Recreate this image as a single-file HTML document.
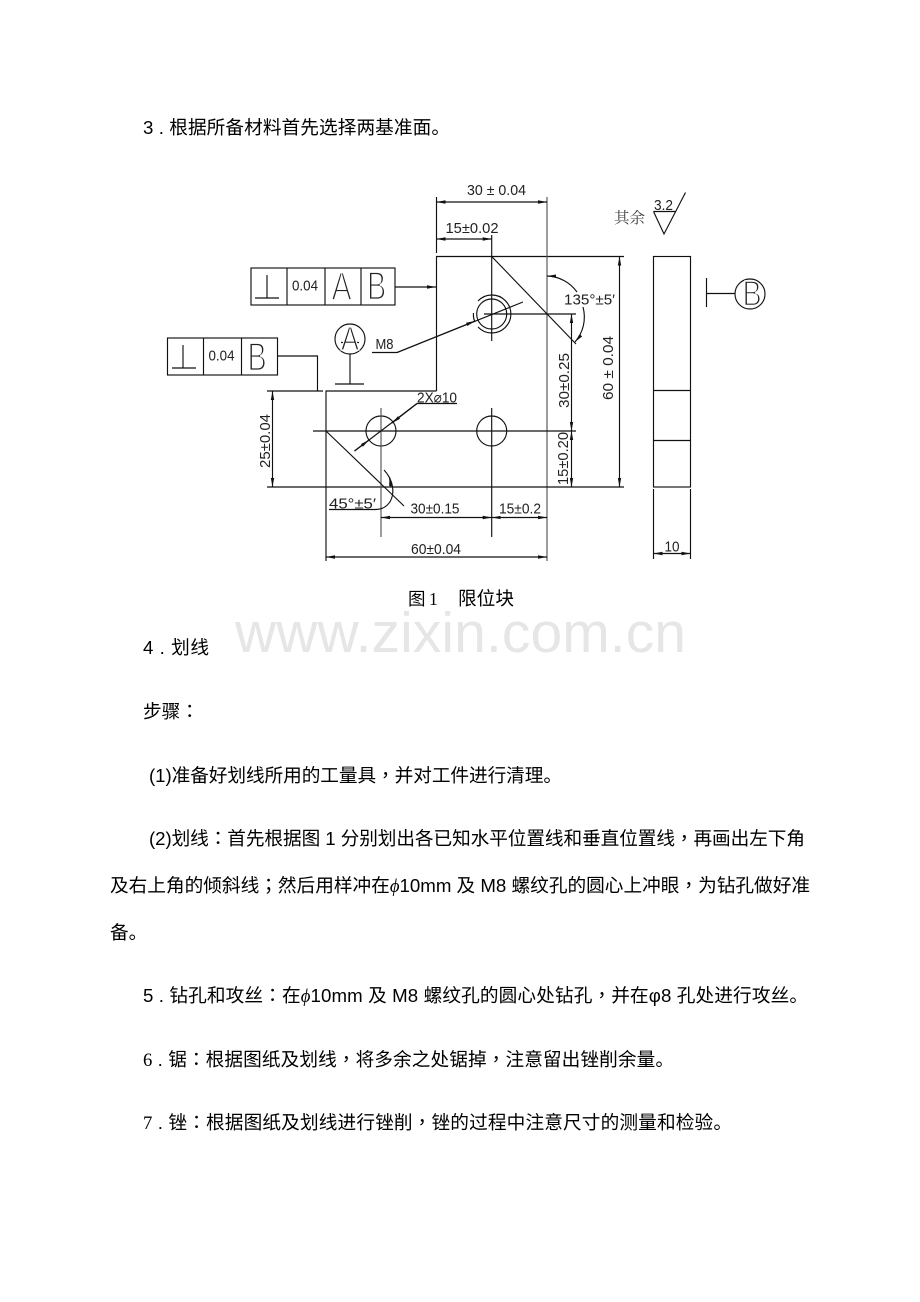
<!DOCTYPE html>
<html lang="zh-CN"><head><meta charset="utf-8">
<style>
html,body{margin:0;padding:0;background:#fff;width:920px;height:1302px;overflow:hidden}
svg{display:block}
.b{font-family:"Liberation Sans","Noto Sans CJK SC",sans-serif;font-size:18.67px;fill:#000}
.s{font-family:"Liberation Serif","Noto Sans CJK SC",serif}
.p{font-family:"Noto Sans CJK TC",sans-serif;font-feature-settings:"locl" 0}
.c{font-family:"Liberation Sans","DejaVu Sans",sans-serif;font-size:15px;fill:#222}
.g{font-family:"Liberation Sans",sans-serif;fill:#222;stroke:#fff;stroke-width:1.8;paint-order:fill}
.l line,.l path,.l rect,.l circle{stroke:#111;stroke-width:1.15;fill:none}
.l .y{stroke:#555}
</style></head><body>
<svg width="920" height="1302" viewBox="0 0 920 1302" xmlns="http://www.w3.org/2000/svg">
<defs>
<marker id="a" markerUnits="userSpaceOnUse" markerWidth="10" markerHeight="6" refX="9" refY="3" orient="auto-start-reverse"><path d="M0 1.300L9 3L0 4.700Z" fill="#111"/></marker>
</defs>
<text x="235" y="652" font-family="Liberation Sans,sans-serif" font-size="57" fill="#e6e6e6" textLength="451">www.zixin.com.cn</text>

<g class="l">
<!-- FCF 1 -->
<rect x="251" y="268" width="144" height="37"/>
<line x1="287" y1="268" x2="287" y2="305"/><line x1="325" y1="268" x2="325" y2="305"/><line x1="361" y1="268" x2="361" y2="305"/>
<line x1="267" y1="275" x2="267" y2="298"/><line x1="255" y1="298" x2="279" y2="298"/>
<line x1="395" y1="287" x2="436" y2="287" marker-end="url(#a)"/>
<!-- FCF 2 -->
<rect x="167.500" y="338" width="110" height="37"/>
<line x1="203.500" y1="338" x2="203.500" y2="375"/><line x1="241.500" y1="338" x2="241.500" y2="375"/>
<line x1="183" y1="345" x2="183" y2="368"/><line x1="172" y1="368" x2="196" y2="368"/>
<path d="M278 356H317.500V391"/>
<!-- datum A -->
<circle cx="350" cy="339" r="15"/>
<line x1="350" y1="354" x2="350" y2="384"/><line x1="335" y1="384" x2="364" y2="384"/>
<line x1="341" y1="342.500" x2="359" y2="342.500"/>
<!-- M8 leader -->
<path d="M372 352.500H397L523 302"/>
<line x1="397" y1="352.500" x2="475" y2="321" marker-end="url(#a)"/>
<!-- outline -->
<line x1="267" y1="391" x2="323" y2="391"/>
<line x1="325.500" y1="391" x2="436.500" y2="391"/>
<line x1="436.500" y1="197" x2="436.500" y2="253"/>
<line x1="436.500" y1="256.500" x2="436.500" y2="391"/>
<line x1="436" y1="256.500" x2="624" y2="256.500"/>
<line x1="326" y1="391" x2="326" y2="561"/>
<line x1="547" y1="197" x2="547" y2="561" class="y"/>
<line x1="267" y1="487" x2="624" y2="487"/>
<!-- top dims -->
<line x1="436.500" y1="202" x2="547" y2="202" marker-start="url(#a)" marker-end="url(#a)"/>
<line x1="436.500" y1="239" x2="491.700" y2="239" marker-start="url(#a)" marker-end="url(#a)"/>
<!-- M8 hole -->
<line x1="491.700" y1="235" x2="491.700" y2="341"/>
<line x1="484" y1="314" x2="576" y2="314"/>
<circle cx="491.700" cy="314" r="15"/>
<path d="M478 301A19 19 0 1 1 478 327M473.500 313Q473 318 475 322"/>
<line x1="491.700" y1="256.500" x2="576" y2="344"/>
<!-- angle 135 -->
<path d="M547 276A38 38 0 0 1 577 292" marker-start="url(#a)"/>
<path d="M583 307A38 38 0 0 1 575 342" marker-end="url(#a)"/>
<!-- right dims -->
<line x1="571.500" y1="314" x2="571.500" y2="431" marker-start="url(#a)" marker-end="url(#a)"/>
<line x1="571.500" y1="431" x2="571.500" y2="487" marker-start="url(#a)" marker-end="url(#a)"/>
<line x1="619.500" y1="256.500" x2="619.500" y2="487" marker-start="url(#a)" marker-end="url(#a)"/>
<!-- lower holes -->
<line x1="313" y1="431" x2="576" y2="431"/>
<circle cx="381" cy="431" r="15"/><circle cx="491.700" cy="431" r="15"/>
<line x1="381" y1="408" x2="381" y2="537" class="y"/>
<line x1="491.700" y1="408" x2="491.700" y2="537"/>
<line x1="326" y1="431" x2="404" y2="506"/>
<path d="M417 403.500H457M417 403.500L354.500 451"/>
<line x1="417" y1="403.500" x2="392" y2="423" marker-end="url(#a)"/>
<line x1="354.500" y1="451" x2="369" y2="440" marker-end="url(#a)"/>
<!-- 45 -->
<path d="M329 509.500H376C394 509 399 486 384 470"/>
<path d="M391 487L389.500 477" marker-end="url(#a)"/>
<!-- left dim -->
<line x1="272.500" y1="391" x2="272.500" y2="487" marker-start="url(#a)" marker-end="url(#a)"/>
<!-- bottom dims -->
<line x1="381" y1="517.500" x2="491.700" y2="517.500" marker-start="url(#a)" marker-end="url(#a)"/>
<line x1="491.700" y1="517.500" x2="547" y2="517.500" marker-start="url(#a)" marker-end="url(#a)"/>
<line x1="326" y1="557" x2="547" y2="557" marker-start="url(#a)" marker-end="url(#a)"/>
<!-- side view -->
<rect x="653.500" y="256.500" width="37" height="230.500"/>
<line x1="653.500" y1="390.500" x2="690.500" y2="390.500"/>
<line x1="653.500" y1="440.500" x2="690.500" y2="440.500"/>
<line x1="653.500" y1="489" x2="653.500" y2="559"/><line x1="690.500" y1="489" x2="690.500" y2="559"/>
<line x1="653.500" y1="553.500" x2="690.500" y2="553.500" marker-start="url(#a)" marker-end="url(#a)"/>
<!-- datum B -->
<line x1="706.500" y1="278" x2="706.500" y2="307"/>
<line x1="706.500" y1="293.500" x2="735" y2="293.500"/>
<circle cx="750" cy="294" r="15"/>
<!-- surface -->
<path d="M653.500 211.500H676M653.500 211.500L664 234L685.500 192.500"/>
</g>

<g class="c">
<text x="467" y="195" textLength="59" lengthAdjust="spacingAndGlyphs">30 ± 0.04</text>
<text x="445.500" y="233" textLength="53" lengthAdjust="spacingAndGlyphs">15±0.02</text>
<text x="292" y="290.500" textLength="26" lengthAdjust="spacingAndGlyphs">0.04</text>
<text x="208.500" y="360.500" textLength="26" lengthAdjust="spacingAndGlyphs">0.04</text>
<text x="375.500" y="349" textLength="18" lengthAdjust="spacingAndGlyphs">M8</text>
<text x="417" y="402.500" textLength="40" lengthAdjust="spacingAndGlyphs">2X⌀10</text>
<text x="564" y="304.500" textLength="51" lengthAdjust="spacingAndGlyphs">135°±5′</text>
<text x="654" y="210" textLength="19" lengthAdjust="spacingAndGlyphs">3.2</text>
<text x="329" y="508.500" textLength="47" lengthAdjust="spacingAndGlyphs">45°±5′</text>
<text x="410.500" y="513.500" textLength="49" lengthAdjust="spacingAndGlyphs">30±0.15</text>
<text x="499" y="513.500" textLength="42" lengthAdjust="spacingAndGlyphs">15±0.2</text>
<text x="411" y="554" textLength="50" lengthAdjust="spacingAndGlyphs">60±0.04</text>
<text x="664.500" y="551.500" textLength="15" lengthAdjust="spacingAndGlyphs">10</text>
<text transform="rotate(-90 569 408)" x="569" y="408" textLength="55" lengthAdjust="spacingAndGlyphs">30±0.25</text>
<text transform="rotate(-90 568 485)" x="568" y="485" textLength="53" lengthAdjust="spacingAndGlyphs">15±0.20</text>
<text transform="rotate(-90 613 400)" x="613" y="400" textLength="64" lengthAdjust="spacingAndGlyphs">60 ± 0.04</text>
<text transform="rotate(-90 270 468)" x="270" y="468" textLength="54" lengthAdjust="spacingAndGlyphs">25±0.04</text>
</g>

<g class="g" font-size="40">
<text transform="translate(331.500 300) scale(.76 1)">A</text>
<text transform="translate(367 299.500) scale(.72 1)">B</text>
<text transform="translate(247.500 370.500) scale(.72 1)">B</text>
<text transform="translate(742.500 305.500) scale(.72 .88)">B</text>
</g>
<g class="g" font-size="30">
<text transform="translate(341 350) scale(.9 1.1)" style="stroke-width:1.2">A</text>
</g>

<text x="614" y="223" font-family="Noto Serif CJK SC,serif" font-size="15.500" fill="#444" textLength="31">其余</text>

<g class="b">
<text x="143" y="134" textLength="307">3 . 根据所备材料首先选择两基准面&#x3002;</text>
<text x="408" y="605" font-size="17.500">图</text>
<text x="429" y="605" class="s" font-size="17.500">1</text>
<text x="458" y="605" textLength="56">限位块</text>
<text x="143" y="654" textLength="66">4 . 划线</text>
<text x="143" y="718">步骤<tspan class="p" lang="zh-TW" xml:lang="zh-TW">&#xFF1A;</tspan></text>
<text x="149" y="782" textLength="413">(1)准备好划线所用的工量具<tspan class="p" lang="zh-TW" xml:lang="zh-TW">&#xFF0C;</tspan>并对工件进行清理&#x3002;</text>
<text x="149" y="845" textLength="656">(2)划线<tspan class="p" lang="zh-TW" xml:lang="zh-TW">&#xFF1A;</tspan>首先根据图 1 分别划出各已知水平位置线和垂直位置线<tspan class="p" lang="zh-TW" xml:lang="zh-TW">&#xFF0C;</tspan>再画出左下角</text>
<text x="110" y="892" textLength="700">及右上角的倾斜线<tspan class="p" lang="zh-TW" xml:lang="zh-TW">&#xFF1B;</tspan>然后用样冲在<tspan font-style="italic" font-family="Liberation Serif,serif">ϕ</tspan>10mm 及 M8 螺纹孔的圆心上冲眼<tspan class="p" lang="zh-TW" xml:lang="zh-TW">&#xFF0C;</tspan>为钻孔做好准</text>
<text x="110" y="939">备&#x3002;</text>
<text x="143" y="1002" textLength="665">5 . 钻孔和攻丝<tspan class="p" lang="zh-TW" xml:lang="zh-TW">&#xFF1A;</tspan>在<tspan font-style="italic" font-family="Liberation Serif,serif">ϕ</tspan>10mm 及 M8 螺纹孔的圆心处钻孔<tspan class="p" lang="zh-TW" xml:lang="zh-TW">&#xFF0C;</tspan>并在φ8 孔处进行攻丝&#x3002;</text>
<text x="143" y="1066" textLength="531"><tspan class="s">6</tspan> . 锯<tspan class="p" lang="zh-TW" xml:lang="zh-TW">&#xFF1A;</tspan>根据图纸及划线<tspan class="p" lang="zh-TW" xml:lang="zh-TW">&#xFF0C;</tspan>将多余之处锯掉<tspan class="p" lang="zh-TW" xml:lang="zh-TW">&#xFF0C;</tspan>注意留出锉削余量&#x3002;</text>
<text x="143" y="1129" textLength="589"><tspan class="s">7</tspan> . 锉<tspan class="p" lang="zh-TW" xml:lang="zh-TW">&#xFF1A;</tspan>根据图纸及划线进行锉削<tspan class="p" lang="zh-TW" xml:lang="zh-TW">&#xFF0C;</tspan>锉的过程中注意尺寸的测量和检验&#x3002;</text>
</g>
</svg>
</body></html>
